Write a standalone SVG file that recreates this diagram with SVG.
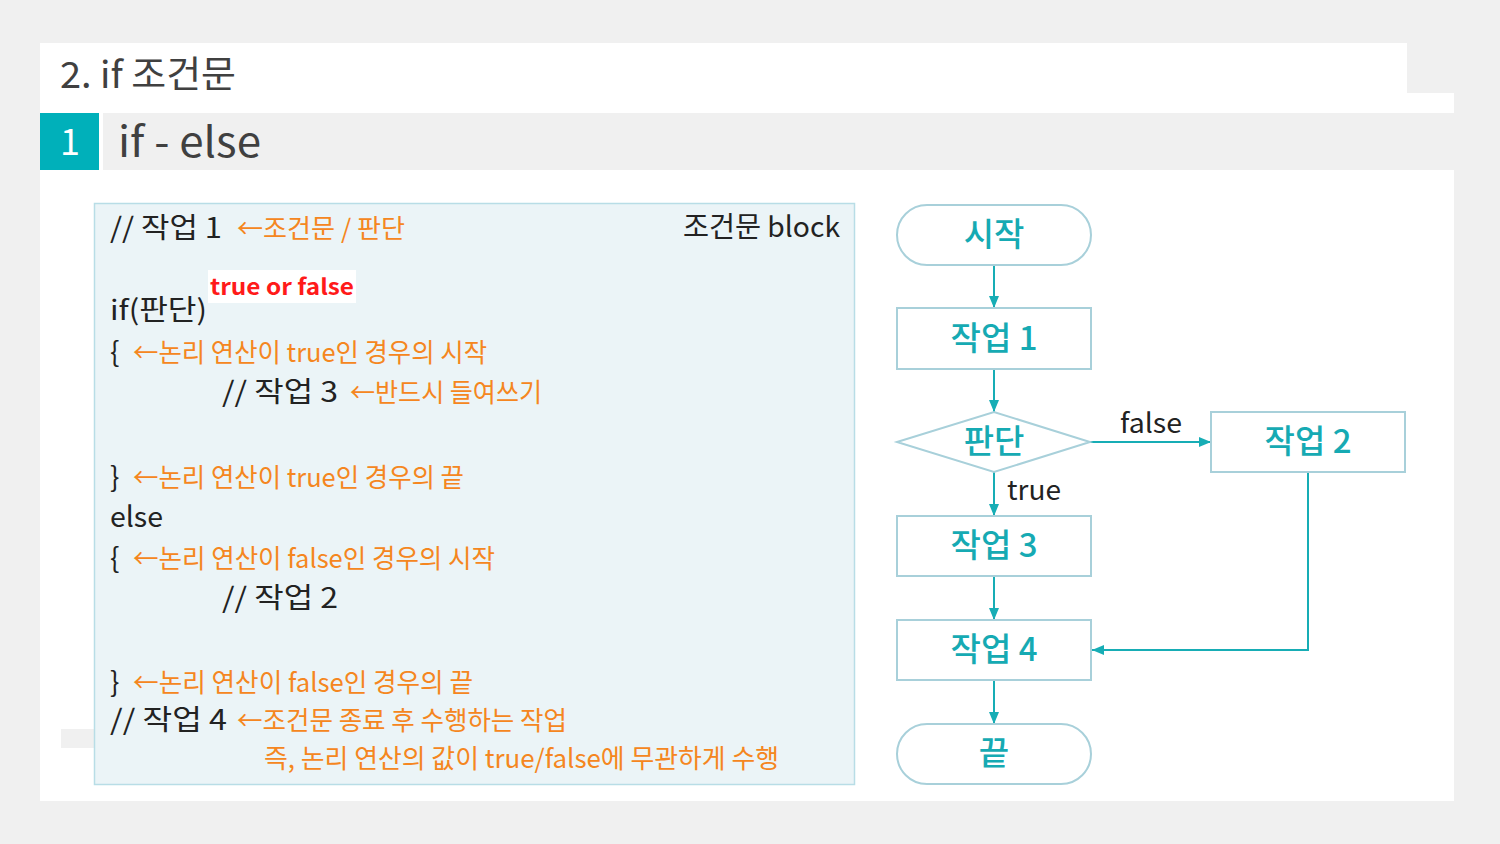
<svg xmlns="http://www.w3.org/2000/svg" width="1500" height="844" viewBox="0 0 1500 844">
<defs>
<style>
.k{font-family:"Noto Sans CJK KR","Noto Sans",sans-serif;}
.code{font-size:28px;fill:#222222;}
.or{font-size:26px;fill:#f58620;}
.node{fill:#ffffff;stroke:#a8d0da;stroke-width:2;}
.nt{font-size:33px;font-weight:500;fill:#16aab3;text-anchor:middle;}
.lbl{font-size:27px;fill:#222222;}
.conn{stroke:#17adb5;stroke-width:2;fill:none;}
</style>
<marker id="ah" viewBox="0 0 12 10" refX="12" refY="5" markerWidth="12" markerHeight="10" markerUnits="userSpaceOnUse" orient="auto">
<path d="M0,0 L12,5 L0,10 z" fill="#17adb5"/>
</marker>
</defs>
<rect x="0" y="0" width="1500" height="844" fill="#f0f0f0"/>
<rect x="40" y="43" width="1367" height="50" fill="#ffffff"/>
<rect x="40" y="93" width="1414" height="708" fill="#ffffff"/>
<rect x="103" y="113" width="1351" height="57" fill="#f0f0f0"/>
<rect x="40" y="113" width="59" height="57" fill="#00b0ba"/>
<text class="k" x="60" y="88" font-size="37" fill="#404040" textLength="176" lengthAdjust="spacingAndGlyphs">2. if 조건문</text>
<text class="k" x="70" y="155" font-size="36" fill="#ffffff" text-anchor="middle">1</text>
<text class="k" x="118" y="157" font-size="42" fill="#404040" textLength="143" lengthAdjust="spacingAndGlyphs">if - else</text>

<rect x="61" y="729" width="33" height="19" fill="#f0f0f0"/>
<g id="codebox">
<rect x="94.5" y="203.5" width="760" height="581" fill="#ebf4f7" stroke="#b8dde6" stroke-width="1.5"/>
<text class="k code" x="110" y="238" textLength="112" lengthAdjust="spacingAndGlyphs">// 작업 1</text>
<text class="k or" x="237" y="238" textLength="168" lengthAdjust="spacingAndGlyphs">←조건문 / 판단</text>
<text class="k code" x="683" y="237" font-size="26" textLength="157" lengthAdjust="spacingAndGlyphs">조건문 block</text>
<rect x="208" y="270" width="148" height="33" fill="#ffffff"/>
<text class="k" x="210" y="295" font-size="22" font-weight="bold" fill="#ff1a1a" textLength="144" lengthAdjust="spacingAndGlyphs">true or false</text>
<text class="k code" x="110" y="320" textLength="97" lengthAdjust="spacingAndGlyphs">if(판단)</text>
<text class="k code" x="110" y="362">{</text>
<text class="k or" x="133" y="362" textLength="354" lengthAdjust="spacingAndGlyphs">←논리 연산이 true인 경우의 시작</text>
<text class="k code" x="222" y="402" textLength="116" lengthAdjust="spacingAndGlyphs">// 작업 3</text>
<text class="k or" x="350" y="402" textLength="192" lengthAdjust="spacingAndGlyphs">←반드시 들여쓰기</text>
<text class="k code" x="110" y="487">}</text>
<text class="k or" x="133" y="487" textLength="331" lengthAdjust="spacingAndGlyphs">←논리 연산이 true인 경우의 끝</text>
<text class="k code" x="110" y="527" textLength="53" lengthAdjust="spacingAndGlyphs">else</text>
<text class="k code" x="110" y="568">{</text>
<text class="k or" x="133" y="568" textLength="362" lengthAdjust="spacingAndGlyphs">←논리 연산이 false인 경우의 시작</text>
<text class="k code" x="222" y="608" textLength="116" lengthAdjust="spacingAndGlyphs">// 작업 2</text>
<text class="k code" x="110" y="692">}</text>
<text class="k or" x="133" y="692" textLength="340" lengthAdjust="spacingAndGlyphs">←논리 연산이 false인 경우의 끝</text>
<text class="k code" x="110" y="730" textLength="117" lengthAdjust="spacingAndGlyphs">// 작업 4</text>
<text class="k or" x="237" y="730" textLength="330" lengthAdjust="spacingAndGlyphs">←조건문 종료 후 수행하는 작업</text>
<text class="k or" x="264" y="768" textLength="515" lengthAdjust="spacingAndGlyphs">즉, 논리 연산의 값이 true/false에 무관하게 수행</text>
</g>

<g id="connectors">
<line class="conn" x1="994" y1="265" x2="994" y2="308" marker-end="url(#ah)"/>
<line class="conn" x1="994" y1="369" x2="994" y2="412" marker-end="url(#ah)"/>
<line class="conn" x1="1090" y1="442" x2="1211" y2="442" marker-end="url(#ah)"/>
<line class="conn" x1="994" y1="472" x2="994" y2="516" marker-end="url(#ah)"/>
<line class="conn" x1="994" y1="576" x2="994" y2="620" marker-end="url(#ah)"/>
<polyline class="conn" points="1308,472 1308,650 1092,650" marker-end="url(#ah)"/>
<line class="conn" x1="994" y1="680" x2="994" y2="724" marker-end="url(#ah)"/>
<text class="k lbl" x="1120" y="433" textLength="62" lengthAdjust="spacingAndGlyphs">false</text>
<text class="k lbl" x="1007" y="500" textLength="54" lengthAdjust="spacingAndGlyphs">true</text>
</g>

<g id="start">
<rect class="node" x="897" y="205" width="194" height="60" rx="30"/>
<text class="k nt" x="994" y="246">시작</text>
</g>
<g id="task1">
<rect class="node" x="897" y="308" width="194" height="61"/>
<text class="k nt" x="994" y="350">작업 1</text>
</g>
<g id="decision">
<polygon class="node" points="897,442 994,412 1090,442 994,472"/>
<text class="k nt" x="994" y="453">판단</text>
</g>
<g id="task2">
<rect class="node" x="1211" y="412" width="194" height="60"/>
<text class="k nt" x="1308" y="453">작업 2</text>
</g>
<g id="task3">
<rect class="node" x="897" y="516" width="194" height="60"/>
<text class="k nt" x="994" y="557">작업 3</text>
</g>
<g id="task4">
<rect class="node" x="897" y="620" width="194" height="60"/>
<text class="k nt" x="994" y="661">작업 4</text>
</g>
<g id="end">
<rect class="node" x="897" y="724" width="194" height="60" rx="30"/>
<text class="k nt" x="994" y="765">끝</text>
</g>
</svg>
